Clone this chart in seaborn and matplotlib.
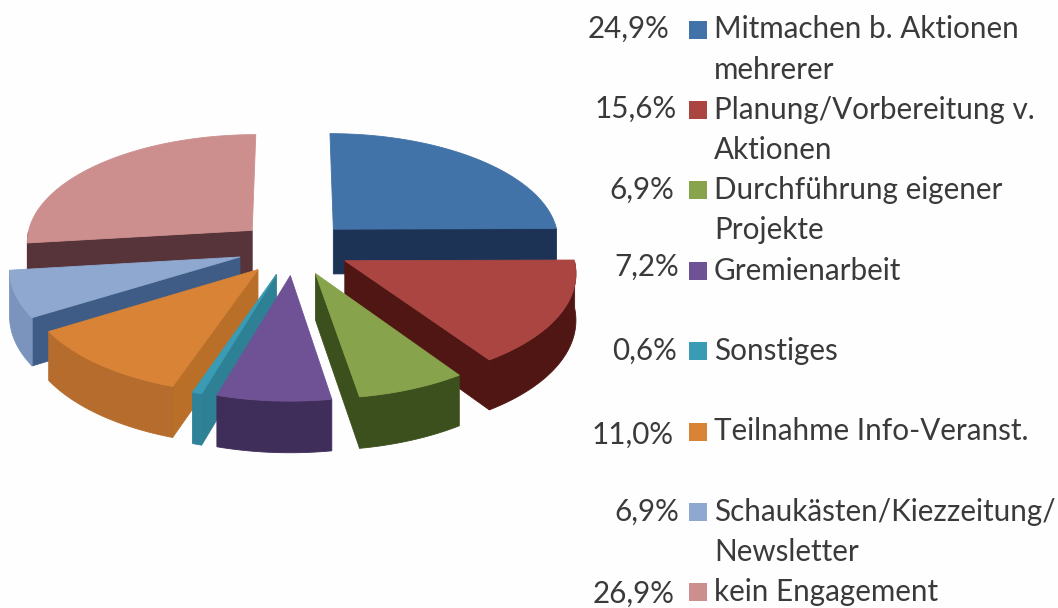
import numpy as np
import matplotlib as mtl
mtl.use('Agg')
import matplotlib.pyplot as plt
import seaborn as sns

# values from the chart, clockwise from 12 o'clock
labels = ['Mitmachen b. Aktionen\nmehrerer', 'Planung/Vorbereitung v.\nAktionen', 'Durchführung eigener\nProjekte',
          'Gremienarbeit', 'Sonstiges', 'Teilnahme Info-Veranst.', 'Schaukästen/Kiezzeitung/\nNewsletter', 'kein Engagement']
shares = [24.9, 15.6, 6.9, 7.2, 0.6, 11.0, 6.9, 26.9]
pct_labels = ['24,9%', '15,6%', '6,9%', '7,2%', '0,6%', '11,0%', '6,9%', '26,9%']

top_cols = ['#4172a8', '#aa4542', '#87a34c', '#6f5295', '#3a9bb4', '#d88335', '#8ea8cf', '#cc8f8e']
arc_cols = ['#1c3355', '#501613', '#3b501c', '#3f2e5a', '#2f8297', '#b56c2c', '#7a94be', '#57333a']
cut_cols = ['#1c3355', '#501613', '#3b501c', '#3f2e5a', '#2e8094', '#b96f28', '#3e5c85', '#57333a']

# pixel-ish layout of the 3d pie
cx, cy = 294, 248
rx, ry = 227, 108
persp = 0.095
explode = 0.25
depth = 45.5
pct_right = [669, 677, 674, 679, 677, 674, 679, 674]
pct_dy = [-1, -1, -1, -4, 0, 3, 0, 1]

sns.set_theme(style='white')
plt.rcParams['font.family'] = ['Lato', 'DejaVu Sans']


def project(x, y, z=0):
    s = 1 / (1 - persp * y)
    return cx + rx * x * s, cy + ry * y * s + depth * z * s


def wall(ax, xs, ys, col):
    upper = [project(a, b) for a, b in zip(xs, ys)]
    lower = [project(a, b, 1) for a, b in zip(xs, ys)]
    ax.fill(*zip(*(upper + lower[::-1])), color=col, lw=0.6, zorder=2)


def draw_slice(ax, start, end, top, arc, cut):
    mid = (start + end) / 2
    ox, oy = explode * np.sin(mid), -explode * np.cos(mid)
    th = np.linspace(start, end, max(3, int(np.degrees(end - start))))
    xs = ox + np.sin(th)
    ys = oy - np.cos(th)
    # only the faces turned to the viewer
    if -np.cos(start - np.pi / 2) > 1e-6:
        wall(ax, [ox, xs[0]], [oy, ys[0]], cut)
    if -np.cos(end + np.pi / 2) > 1e-6:
        wall(ax, [ox, xs[-1]], [oy, ys[-1]], cut)
    front = np.cos(th) < 0
    if front.sum() > 1:
        wall(ax, xs[front], ys[front], arc)
    outline = [project(ox, oy)] + [project(a, b) for a, b in zip(xs, ys)]
    ax.fill(*zip(*outline), color=top, lw=0.6, zorder=2)


fig = plt.figure(figsize=(10.58, 6.08), dpi=100, facecolor='#fefefe')
ax = fig.add_axes([0, 0, 1, 1])
ax.set_xlim(0, 1058)
ax.set_ylim(608, 0)
ax.axis('off')

edges = np.radians(np.cumsum([0] + shares) / sum(shares) * 360)
order = sorted(range(len(shares)), key=lambda i: -np.cos((edges[i] + edges[i + 1]) / 2))
for i in order:
    draw_slice(ax, edges[i], edges[i + 1], top_cols[i], arc_cols[i], cut_cols[i])

# legend, one row = 40.2 px
row = 0
for i, lab in enumerate(labels):
    y = 29.5 + 40.2 * row
    ax.scatter([697.5], [y], marker='s', s=150, color=top_cols[i], linewidths=0, zorder=3)
    ax.text(pct_right[i], y + pct_dy[i], pct_labels[i], ha='right', va='center', fontsize=21.3, color='#3a3a3a')
    for k, line in enumerate(lab.split('\n')):
        ax.text(714, y + 40.2 * k, line, ha='left', va='center', fontsize=21.3, color='#3a3a3a')
    row += 2

fig.savefig('out.png', dpi=100, facecolor=fig.get_facecolor())
